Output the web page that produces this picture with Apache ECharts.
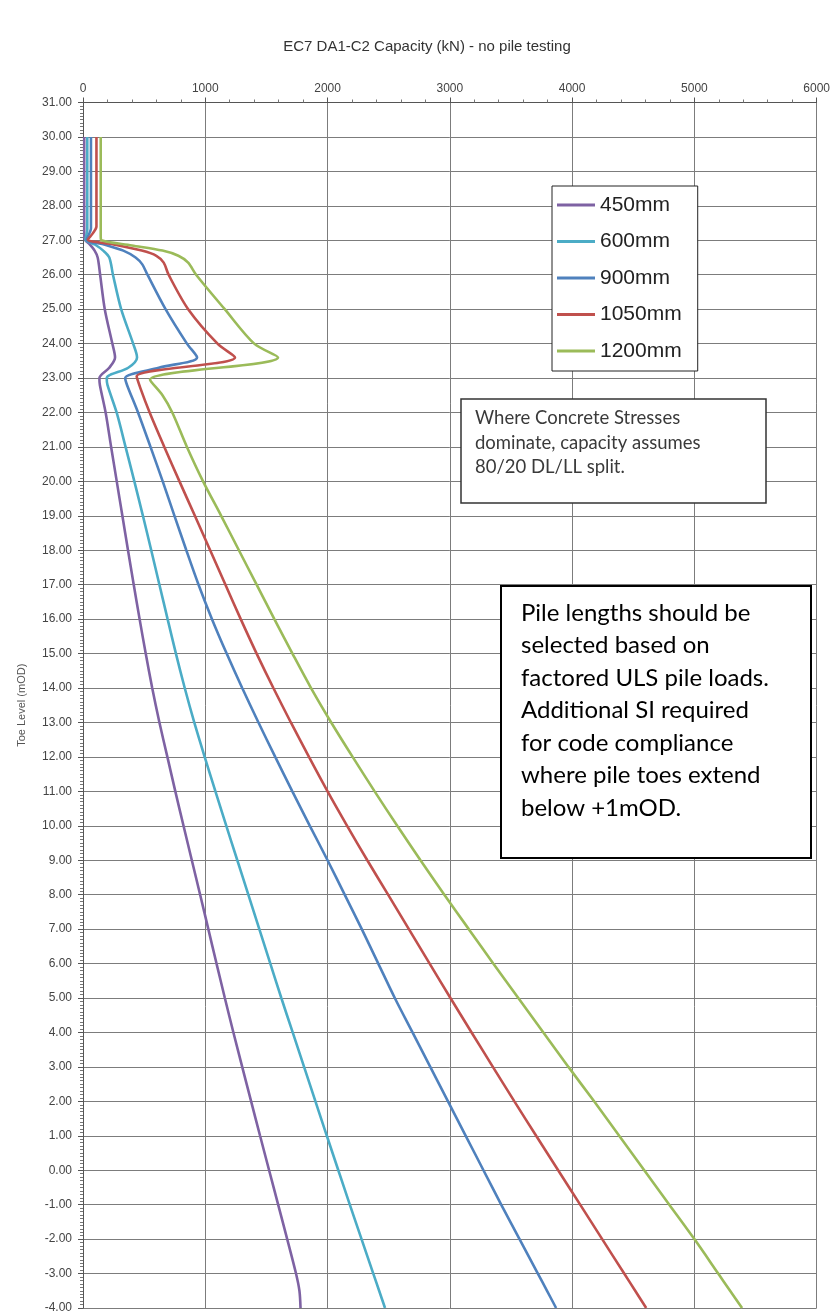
<!DOCTYPE html>
<html>
<head>
<meta charset="utf-8">
<script src="https://cdn.jsdelivr.net/npm/echarts@6/dist/echarts.min.js"></script>
<style>
html,body{margin:0;padding:0;background:#fff;}
#c{width:833px;height:1316px;}
</style>
</head>
<body>
<div id="c"></div>
<script>
// ---- data ----
const seriesNames = ['450mm', '600mm', '900mm', '1050mm', '1200mm'];
const seriesColors = ['#7E62A3', '#4BACC6', '#4F81BD', '#C0504D', '#9BBB59'];

// upper section, [capacity kN, toe level mOD]
const upper450 = [[10,30],[10,27.3],[12,27.05],[55,26.88],[95,26.7],[120,26.5],[140,26],[178,25],[240,24],[262,23.6],[215,23.3],[134,23.0],[138,22.8]];
const upper600 = [[35,30],[35,27.3],[20,27.02],[100,26.87],[165,26.7],[215,26.5],[245,26],[312,25],[410,24],[442,23.6],[370,23.3],[194,23.0],[200,22.8]];
const upper900 = [[65,30],[65,27.35],[30,27.02],[180,26.87],[330,26.7],[430,26.5],[485,26.3],[527,26],[675,25],[850,24],[933,23.6],[620,23.3],[345,23.0],[360,22.8]];
const upper1050 = [[110,30],[110,27.4],[80,27.2],[40,27.02],[250,26.88],[480,26.7],[600,26.55],[660,26.35],[700,26],[860,25],[1100,24],[1243,23.6],[439,23.05],[470,22.7]];
const upper1200 = [[145,30],[145,27.1],[150,27.0],[400,26.85],[650,26.7],[780,26.55],[860,26.35],[925,26],[1159,25],[1400,24],[1595,23.6],[548,22.95],[650,22.5]];

// lower section: capacity at each toe level
const levels = [22,21,20,19,18,17,16,15,14,13,12,11,10,9,8,7,6,5,4,3,2,1,0,-1,-2,-3,-3.5,-4];
const lower450 = [185,230,276,322,368,415,463,513,566,625,690,755,822,890,958,1025,1092,1160,1230,1302,1375,1448,1522,1596,1670,1742,1770,1779];
const lower600 = [275,348,420,490,558,625,692,760,832,910,995,1083,1172,1262,1352,1442,1532,1622,1715,1808,1901,1994,2088,2182,2278,2374,2422,2470];
const lower900 = [450,552,652,748,845,945,1055,1175,1302,1435,1572,1712,1855,2000,2140,2280,2415,2550,2695,2840,2985,3130,3275,3420,3570,3720,3795,3869];
const lower1050 = [545,665,789,915,1040,1165,1290,1420,1557,1700,1848,2000,2160,2325,2495,2665,2835,3005,3178,3352,3528,3706,3886,4066,4246,4426,4516,4606];
const lower1200 = [730,850,982,1130,1275,1420,1565,1713,1865,2030,2205,2385,2570,2760,2955,3155,3355,3560,3765,3970,4180,4385,4590,4795,5000,5195,5292,5390];

const xTicks = { min: 0, max: 6000, interval: 1000 };
const yTicks = { min: -4, max: 31, interval: 1 };

const titleText = 'EC7 DA1-C2 Capacity (kN) - no pile testing';
const yName = 'Toe Level (mOD)';
const note1 = ['Where Concrete Stresses', 'dominate, capacity assumes', '80/20 DL/LL split.'];
const note2 = ['Pile lengths should be', 'selected based on', 'factored ULS pile loads.', 'Additional SI required', 'for code compliance', 'where pile toes extend', 'below +1mOD.'];

// ---- build ----
const uppers = [upper450, upper600, upper900, upper1050, upper1200];
const lowers = [lower450, lower600, lower900, lower1050, lower1200];

const series = seriesNames.map((name, i) => ({
  name: name,
  type: 'line',
  data: uppers[i].concat(levels.map((lv, k) => [lowers[i][k], lv])),
  symbol: 'none',
  smooth: 0.3,
  lineStyle: { width: 2.6, color: seriesColors[i] },
  itemStyle: { color: seriesColors[i] },
  z: 3
}));

const chart = echarts.init(document.getElementById('c'), null, { renderer: 'canvas' });
chart.setOption({
  backgroundColor: '#ffffff',
  animation: false,
  title: {
    text: titleText,
    left: 422,
    textAlign: 'center',
    top: 34,
    textStyle: { fontFamily: 'Liberation Sans', fontSize: 15, fontWeight: 'normal', color: '#333' }
  },
  grid: { left: 83, right: 16, top: 102.5, bottom: 8, containLabel: false },
  xAxis: {
    type: 'value',
    position: 'top',
    min: xTicks.min, max: xTicks.max, interval: xTicks.interval,
    axisLine: { show: true, onZero: false, lineStyle: { color: '#555', width: 1 } },
    axisTick: { show: true, length: 5, lineStyle: { color: '#555' } },
    minorTick: { show: true, splitNumber: 5, length: 3, lineStyle: { color: '#777' } },
    axisLabel: { fontFamily: 'Liberation Sans', fontSize: 12, color: '#444', margin: 8,
      formatter: v => String(v) },
    splitLine: { show: true, lineStyle: { color: '#7c7c7c', width: 1 } }
  },
  yAxis: {
    type: 'value',
    min: yTicks.min, max: yTicks.max, interval: yTicks.interval,
    name: yName,
    nameLocation: 'middle',
    nameGap: 56,
    nameTextStyle: { fontFamily: 'Liberation Sans', fontSize: 11, color: '#555' },
    axisLine: { show: true, onZero: false, lineStyle: { color: '#555', width: 1 } },
    axisTick: { show: true, length: 5, lineStyle: { color: '#555' } },
    minorTick: { show: true, splitNumber: 10, length: 3, lineStyle: { color: '#777' } },
    axisLabel: { fontFamily: 'Liberation Sans', fontSize: 12, color: '#444', margin: 11,
      formatter: v => v.toFixed(2) },
    splitLine: { show: true, lineStyle: { color: '#7c7c7c', width: 1 } }
  },
  legend: {
    data: seriesNames,
    orient: 'vertical',
    left: 552,
    top: 186,
    backgroundColor: '#fff',
    borderColor: '#222',
    borderWidth: 1,
    padding: [8, 16, 9, 5],
    itemGap: 14.5,
    itemWidth: 38,
    itemHeight: 3,
    icon: 'rect',
    textStyle: { fontFamily: 'Liberation Sans', fontSize: 21, color: '#222', lineHeight: 22 },
    z: 10
  },
  graphic: [
    {
      type: 'rect', z: 50,
      shape: { x: 461, y: 399, width: 305, height: 104 },
      style: { fill: '#fff', stroke: '#333', lineWidth: 1.5 }
    },
    {
      type: 'text', z: 51, x: 475, y: 406,
      style: { text: note1.join('\n'), font: '18.5px Lato', lineHeight: 24.5, fill: '#3a3a3a', textVerticalAlign: 'top' }
    },
    {
      type: 'rect', z: 50,
      shape: { x: 501, y: 586, width: 310, height: 272 },
      style: { fill: '#fff', stroke: '#000', lineWidth: 2 }
    },
    {
      type: 'text', z: 51, x: 521, y: 597,
      style: { text: note2.join('\n'), font: '24px Lato', lineHeight: 32.5, fill: '#000', textVerticalAlign: 'top' }
    }
  ],
  series: series
});
</script>
</body>
</html>
